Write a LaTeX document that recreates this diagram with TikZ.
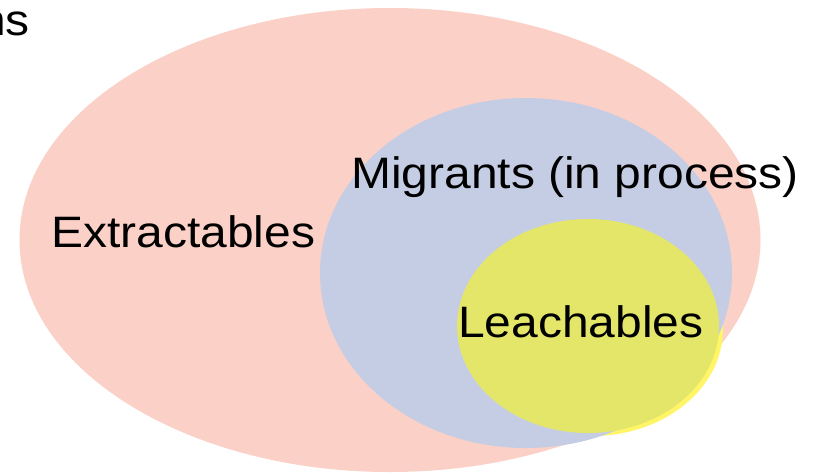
\documentclass[tikz,border=0pt]{standalone}
\usepackage{fontspec}
\setmainfont{Liberation Sans}[FakeStretch=1.09]
\usepackage{xcolor}
\usepackage{tikz}
\usetikzlibrary{
  shapes.geometric,
  positioning
}
\definecolor{ExtractPink}{RGB}{251, 208, 199}
\definecolor{MigrantBlue}{RGB}{197, 205, 228}
\definecolor{LeachGreen}{RGB}{227, 230, 105}
\definecolor{LeachYellow}{RGB}{255, 245, 102}
\definecolor{DarkNavy}{RGB}{40, 44, 90}
\tikzset{
    setblob/.style={ellipse, inner sep=0pt, draw=none},
    setlabel/.style={inner sep=0pt, anchor=base west, font=\fontsize{44}{50}\selectfont}
}
\begin{document}
\begin{tikzpicture}[x=1pt, y=-1pt]
            \useasboundingbox (0,0) rectangle (813,472);
            \clip (0,0) rectangle (813,472);
            \fill[white] (0,0) rectangle (813,472);
            % the three sets
            \node[setblob, fill=ExtractPink, minimum width=741pt, minimum height=464pt] (extract) at (390,240) {};
            \node[setblob, fill=LeachYellow, minimum width=262pt, minimum height=214pt] (leachshadow) at (592,329) {};
            \node[setblob, fill=MigrantBlue, minimum width=412pt, minimum height=350pt] (migrant) at (526,273) {};
            \node[setblob, fill=LeachGreen, minimum width=262pt, minimum height=214pt] (leach) at (588,326) {};
            \node[setblob, fill=DarkNavy!80, minimum width=110pt, minimum height=100pt] (below) at (545,524) {};
            % labels
            \node[setlabel, anchor=base east] (cutword) at (30,35) {ns};
            \node[setlabel] (extractlabel) at (51,247) {Extractables};
            \node[setlabel] (migrantlabel) at (351,188) {Migrants (in process)};
            \node[setlabel] (leachlabel) at (458,337) {Leachables};
        \end{tikzpicture}
\end{document}
